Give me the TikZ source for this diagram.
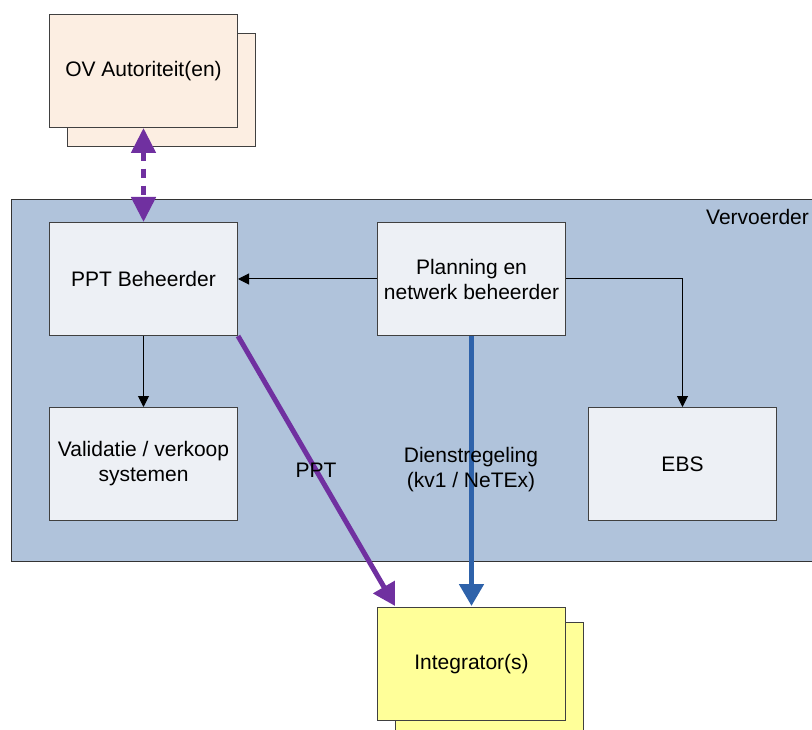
\documentclass[tikz,border=0pt]{standalone}
\usepackage{fontspec}
\setmainfont{Liberation Sans}
\usetikzlibrary{arrows.meta,calc}
\definecolor{ovfill}{HTML}{FCEEE2}
\definecolor{vervfill}{HTML}{B0C3DB}
\definecolor{boxfill}{HTML}{EDF0F5}
\definecolor{integfill}{HTML}{FFFF99}
\definecolor{ppurple}{HTML}{7030A0}
\definecolor{pblue}{HTML}{2E62AA}
\definecolor{edge}{HTML}{404040}
\tikzset{
  box/.style={draw=edge, line width=1pt, minimum width=188pt, minimum height=113pt, inner sep=0pt, align=center, font=\fontsize{21}{25}\selectfont},
  thinarrow/.style={draw=black, line width=1pt, -{Triangle[length=11pt,width=11pt]}},
  fatarrow/.style={line width=5pt, -{Triangle[length=22pt,width=24pt]}},
  lbl/.style={align=center, font=\fontsize{21}{25}\selectfont, inner sep=0pt}
}
\begin{document}
\begin{tikzpicture}[x=1pt,y=-1pt]
\useasboundingbox (0,0) rectangle (812,730);
\clip (0,0) rectangle (812,730);
% OV Autoriteit(en)
\node[box, fill=ovfill, anchor=north west] (ovback) at (67,33) {};
\node[box, fill=ovfill, anchor=north west] (ov) at (49,14) {OV Autoriteit(en)};
% Vervoerder
\node[draw=black!80, line width=1pt, fill=vervfill, anchor=north west, minimum width=820pt, minimum height=362pt, inner sep=0pt] (verv) at (11,199) {};
\node[lbl, anchor=west] (vervlbl) at (706,217) {Vervoerder};
% boxes
\node[box, fill=boxfill, anchor=north west] (ppt) at (49,222) {PPT Beheerder};
\node[box, fill=boxfill, anchor=north west] (plan) at (377,222) {Planning en\\netwerk beheerder};
\node[box, fill=boxfill, anchor=north west] (val) at (49,407) {Validatie / verkoop\\systemen};
\node[box, fill=boxfill, anchor=north west] (ebs) at (588,407) {EBS};
% Integrator(s)
\node[box, fill=integfill, anchor=north west] (integback) at (395,622) {};
\node[box, fill=integfill, anchor=north west] (integ) at (377,607) {Integrator(s)};
% connectors
\draw[thinarrow] (plan.west) -- (ppt.east);
\draw[thinarrow] (plan.east) -| (ebs.north);
\draw[thinarrow] (ppt.south) -- (val.north);
\draw[ppurple, line width=5pt, dash pattern=on 9pt off 8pt, {Triangle[length=25pt,width=24pt]}-{Triangle[length=25pt,width=24pt]}] (ov.south) -- (ppt.north);
\draw[ppurple, fatarrow] (ppt.south east) -- ($(integ.north west)+(18,-1)$);
\draw[pblue, fatarrow] (plan.south) -- ($(integ.north)+(0,-1)$);
% labels
\node[lbl] (pptlbl) at (316,470) {PPT};
\node[lbl] (dlbl) at (471,470) {Dienstregeling\\(kv1 / NeTEx)};
\end{tikzpicture}
\end{document}
